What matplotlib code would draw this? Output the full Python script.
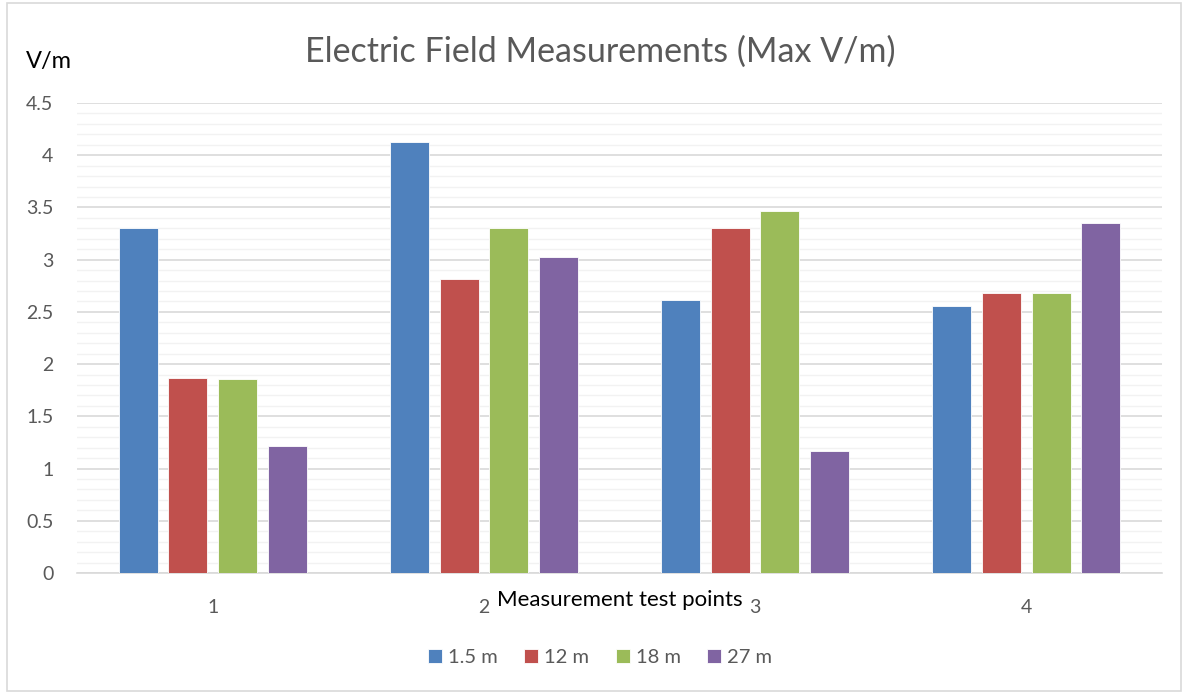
import numpy as np
import matplotlib.pyplot as plt
from matplotlib.patches import Rectangle

plt.rcParams['font.family'] = ['Lato', 'DejaVu Sans']

# Data
test_points = ["1", "2", "3", "4"]
series_names = ["1.5 m", "12 m", "18 m", "27 m"]
h_1_5 = [3.30, 4.13, 2.61, 2.56]
h_12 = [1.87, 2.81, 3.30, 2.68]
h_18 = [1.86, 3.30, 3.47, 2.68]
h_27 = [1.22, 3.03, 1.17, 3.35]
colors = ["#4F81BD", "#C0504D", "#9BBB59", "#8064A2"]

fig = plt.figure(figsize=(11.86, 6.94), dpi=100)
ax = fig.add_axes([0.0649, 0.1744, 0.9149, 0.6772])

x = np.arange(len(test_points))
width = 0.144
pitch = 0.183
for i, (vals, name, c) in enumerate(zip([h_1_5, h_12, h_18, h_27], series_names, colors)):
    ax.bar(x + (i - 1.5) * pitch, vals, width, color=c, edgecolor="white",
           linewidth=0.6, label=name, zorder=3)

ax.set_xlim(-0.5, 3.5)
ax.set_ylim(0, 4.5)
ax.set_yticks(np.arange(0, 4.51, 0.5))
ax.set_yticklabels(["0", "0.5", "1", "1.5", "2", "2.5", "3", "3.5", "4", "4.5"])
ax.set_yticks(np.arange(0, 4.51, 0.1), minor=True)
ax.set_xticks(x)
ax.set_xticklabels(test_points)
ax.grid(axis='y', which='major', color="#D9D9D9", linewidth=1.2, zorder=0)
ax.grid(axis='y', which='minor', color="#F2F2F2", linewidth=1.0, zorder=0)
ax.tick_params(axis='both', which='both', length=0, labelsize=14, labelcolor="#595959")
ax.tick_params(axis='y', pad=17)
ax.tick_params(axis='x', pad=19)
for s in ["top", "right", "left"]:
    ax.spines[s].set_visible(False)
ax.spines["bottom"].set_color("#D9D9D9")
ax.spines["bottom"].set_linewidth(1.2)

fig.text(0.506, 0.925, "Electric Field Measurements (Max V/m)", ha="center", va="center",
         fontsize=24.5, color="#595959")
fig.text(0.022, 0.912, "V/m", ha="left", va="center", fontsize=17, color="black")
fig.text(0.5225, 0.135, "Measurement test points", ha="center", va="center",
         fontsize=16, color="black")

leg = fig.legend(loc="center", bbox_to_anchor=(0.506, 0.052), ncol=4, frameon=False,
                 fontsize=14.5, handlelength=0.7, handleheight=0.7, handletextpad=0.3,
                 columnspacing=1.3)
for t in leg.get_texts():
    t.set_color("#595959")

fig.patches.append(Rectangle((0.006, 0.004), 0.99, 0.992, transform=fig.transFigure,
                             fill=False, edgecolor="#D9D9D9", linewidth=1.2))

fig.savefig("out.png", dpi=100)
